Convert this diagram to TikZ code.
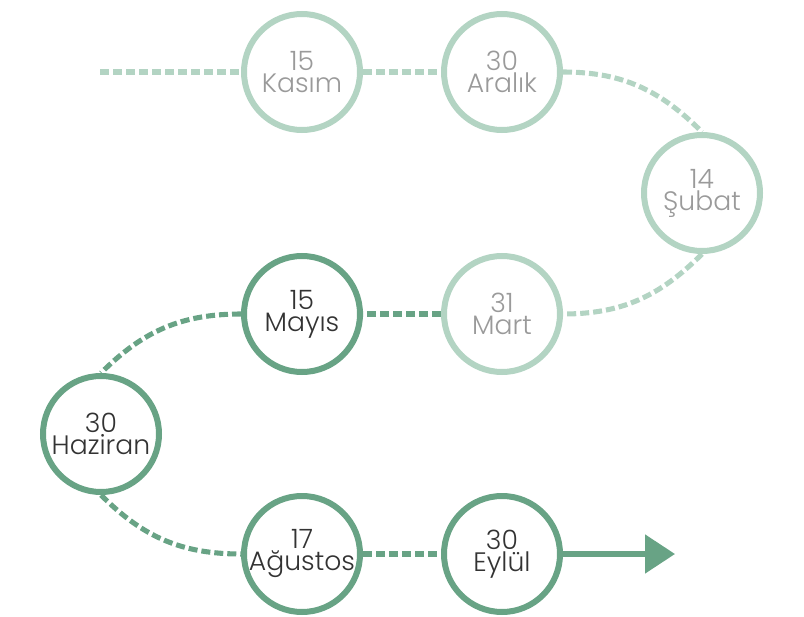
\documentclass[tikz,border=0pt]{standalone}
\usepackage{fontspec}
\setmainfont{Poppins Light}
\usetikzlibrary{arrows.meta}
\definecolor{sage}{HTML}{68A385}
\definecolor{palesage}{HTML}{B3D4C3}
\definecolor{darktext}{HTML}{333333}
\definecolor{paletext}{HTML}{9A9A9A}
\tikzset{
  month/.style={circle,draw=sage,line width=4.5pt,minimum size=87pt,inner sep=0pt,fill=white},
  pastmonth/.style={month,draw=palesage},
  when/.style={align=center,inner sep=0pt,text=darktext,font=\fontsize{20}{16.5}\selectfont},
  pastwhen/.style={when,text=paletext},
  link/.style={draw=sage,line width=3.8pt,dash pattern=on 6.75pt off 3pt},
  pastlink/.style={link,draw=palesage}
}
\begin{document}
\begin{tikzpicture}[x=0.75pt,y=-0.75pt]
    \useasboundingbox (0,0) rectangle (804,617);
    % past dates
    \node[pastmonth,label={[pastwhen]center:15\\Kasım}]  (kasim)   at (302,72)  {};
    \node[pastmonth,label={[pastwhen]center:30\\Aralık}] (aralik)  at (502,72)  {};
    \node[pastmonth,label={[pastwhen]center:14\\Şubat}]  (subat)   at (702,193) {};
    \node[pastmonth,label={[pastwhen]center:31\\Mart}]   (mart)    at (502,314) {};
    % coming dates
    \node[month,label={[when]center:15\\Mayıs}]    (mayis)   at (302,314) {};
    \node[month,label={[when]center:30\\Haziran}]  (haziran) at (101,434) {};
    \node[month,label={[when]center:17\\Ağustos}]  (agustos) at (302,554) {};
    \node[month,label={[when]center:30\\Eylül}]    (eylul)   at (502,554) {};
    \coordinate (start) at (100,72);
    \coordinate (end)   at (675,554);
    \path
      (start)  edge [pastlink] (kasim)
      (kasim)  edge [pastlink] (aralik)
      (aralik) edge [pastlink,out=0,in=135] (subat.north)
      (subat.south) edge [pastlink,out=225,in=0] (mart)
      (mart)   edge [link] (mayis)
      (mayis)  edge [link,out=180,in=45] (haziran.north)
      (haziran.south) edge [link,out=-45,in=180] (agustos)
      (agustos) edge [link] (eylul);
    \draw[sage,line width=3.8pt,-{Triangle[length=22.5pt,width=28.5pt]}] (eylul) -- (end);
\end{tikzpicture}
\end{document}
